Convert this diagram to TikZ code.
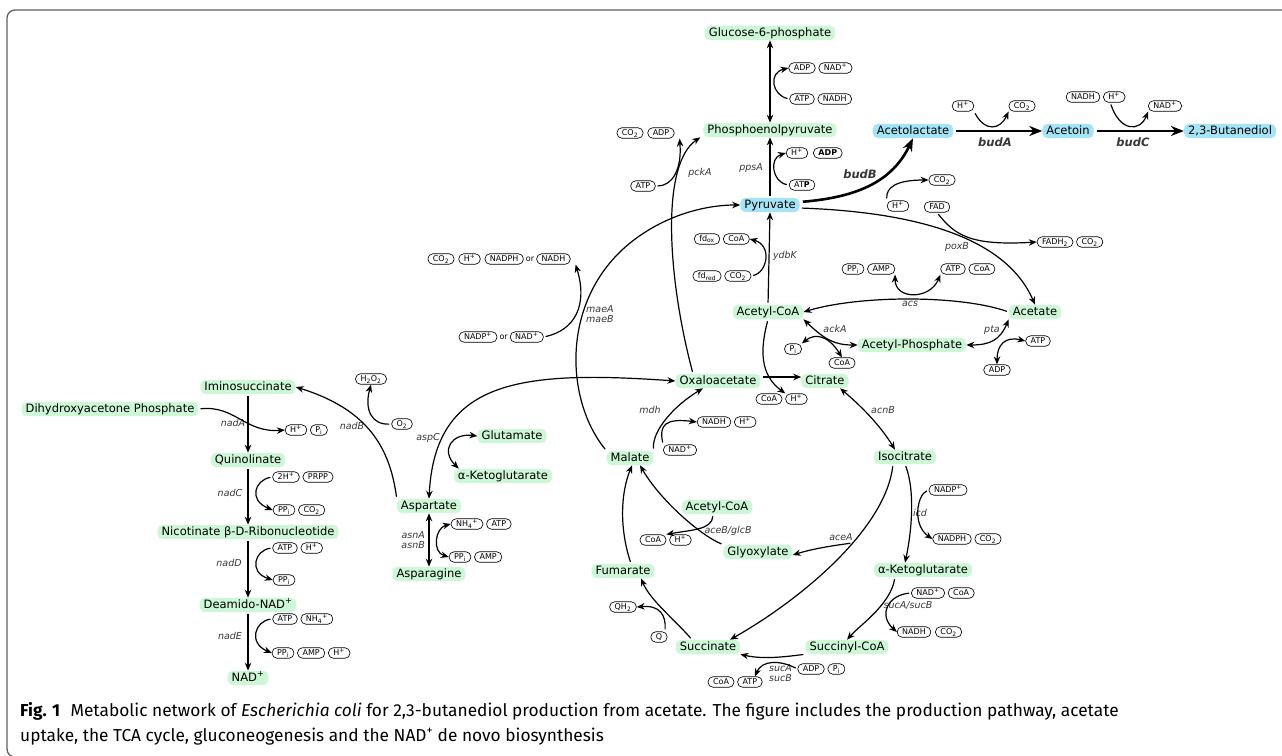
\documentclass[tikz,border=0pt]{standalone}
\usepackage{fontspec}
\setmainfont{DejaVu Sans}
\newfontfamily\capfont{Fira Sans}
\usetikzlibrary{arrows.meta,positioning}

\definecolor{metgreen}{RGB}{205,247,214}
\definecolor{metblue}{RGB}{165,228,246}
\definecolor{enzgray}{RGB}{55,55,55}
\definecolor{framegray}{RGB}{95,95,95}

\tikzset{
  met/.style={fill=metgreen, rounded corners=5pt, inner xsep=4pt, inner ysep=1.5pt, text height=8.7pt, text depth=2.5pt, font=\fontsize{11.5}{13}\selectfont},
  metb/.style={met, fill=metblue},
  cof/.style={draw, line width=0.65pt, rounded corners=5pt, inner xsep=5pt, inner ysep=1.5pt, text height=6.2pt, text depth=1.3pt, font=\fontsize{8}{9}\selectfont},
  ortext/.style={inner sep=1pt, font=\fontsize{8}{9}\selectfont},
  enz/.style={inner sep=1pt, text=enzgray, font=\fontsize{9.5}{10.5}\selectfont\itshape},
  enzb/.style={inner sep=1pt, text=enzgray, font=\fontsize{11.5}{13}\selectfont\bfseries\itshape},
  rxn/.style={line width=1.2pt, shorten <=2pt, -{Stealth[length=8pt,width=6.5pt]}},
  rxnbi/.style={line width=1.2pt, {Stealth[length=8pt,width=6.5pt]}-{Stealth[length=8pt,width=6.5pt]}},
  rxnthick/.style={line width=2.6pt, shorten <=3pt, -{Stealth[length=13pt,width=10pt]}}
}

\begin{document}
\begin{tikzpicture}[x=1pt,y=-1pt]
\useasboundingbox (0,0) rectangle (1282,755);
\draw[framegray, line width=1.3pt, rounded corners=8pt] (1290,10) -- (7,10) -- (7,757) -- (40,757);

% metabolites
\node[met] (g6p) at (770,33) {Glucose-6-phosphate};
\node[met] (pep) at (770,130) {Phosphoenolpyruvate};
\node[metb] (pyr) at (770,205) {Pyruvate};
\node[metb] (acl) at (913,131) {Acetolactate};
\node[metb] (acn) at (1068,131) {Acetoin};
\node[metb] (btd) at (1230,131) {2,3-Butanediol};
\node[met] (accoa) at (768,312) {Acetyl-CoA};
\node[met] (acet) at (1035,312) {Acetate};
\node[met] (acp) at (912,345) {Acetyl-Phosphate};
\node[met] (oaa) at (718,381) {Oxaloacetate};
\node[met] (cit) at (825,381) {Citrate};
\node[met] (mal) at (630,458) {Malate};
\node[met] (icit) at (905,457) {Isocitrate};
\node[met] (accoab) at (717,507) {Acetyl-CoA};
\node[met] (glx) at (758,552) {Glyoxylate};
\node[met] (fum) at (623,571) {Fumarate};
\node[met] (akgb) at (923,570) {α-Ketoglutarate};
\node[met] (suc) at (708,647) {Succinate};
\node[met] (succoa) at (847,647) {Succinyl-CoA};
\node[met] (asp) at (429,506) {Aspartate};
\node[met] (asn) at (429,574) {Asparagine};
\node[met] (glu) at (512,436) {Glutamate};
\node[met] (akga) at (503,476) {α-Ketoglutarate};
\node[met] (ims) at (248,387) {Iminosuccinate};
\node[met] (dhap) at (110,409) {Dihydroxyacetone Phosphate};
\node[met] (quin) at (248,460) {Quinolinate};
\node[met] (nicrn) at (248,532) {Nicotinate β-D-Ribonucleotide};
\node[met] (dnad) at (248,605) {Deamido-NAD\textsuperscript{+}};
\node[met] (nad) at (248,678) {NAD\textsuperscript{+}};

% cofactors
\node[cof] (c1adp) at (802,68) {ADP};
\node[cof, right=3pt of c1adp] (c1nad) {NAD\textsuperscript{+}};
\node[cof] (c1atp) at (802,99) {ATP};
\node[cof, right=3pt of c1atp] (c1nadh) {NADH};
\node[cof] (c2h) at (797,153) {H\textsuperscript{+}};
\node[cof, right=5pt of c2h] (c2adp) {\bfseries ADP};
\node[cof] (c2atp) at (802,185) {AT{\bfseries P}};
\node[cof] (c3co2) at (630,133) {CO\textsubscript{2}};
\node[cof, right=4pt of c3co2] (c3adp) {ADP};
\node[cof] (c3atp) at (643,186) {ATP};
\node[cof] (c4co2) at (942,180) {CO\textsubscript{2}};
\node[cof] (c4h) at (898,206) {H\textsuperscript{+}};
\node[cof] (fad) at (937,207) {FAD};
\node[cof] (fadh2) at (1055,242) {FADH\textsubscript{2}};
\node[cof, right=3pt of fadh2] (c5co2) {CO\textsubscript{2}};
\node[cof] (c6h) at (963,106) {H\textsuperscript{+}};
\node[cof] (c6co2) at (1022,106) {CO\textsubscript{2}};
\node[cof] (c7nadh) at (1083,97) {NADH};
\node[cof, right=3pt of c7nadh] (c7h) {H\textsuperscript{+}};
\node[cof] (c7nad) at (1165,106) {NAD\textsuperscript{+}};
\node[cof] (fdox) at (707,239) {fd\textsubscript{ox}};
\node[cof, right=3pt of fdox] (c8coa) {CoA};
\node[cof] (fdred) at (707,276) {fd\textsubscript{red}};
\node[cof, right=3pt of fdred] (c8co2) {CO\textsubscript{2}};
\node[cof] (c9ppi) at (853,269) {PP\textsubscript{i}};
\node[cof, right=3pt of c9ppi] (c9amp) {AMP};
\node[cof] (c9atp) at (953,269) {ATP};
\node[cof, right=3pt of c9atp] (c9coa) {CoA};
\node[cof] (c10pi) at (793,349) {P\textsubscript{i}};
\node[cof] (c10coa) at (842,363) {CoA};
\node[cof] (c11atp) at (1038,341) {ATP};
\node[cof] (c11adp) at (997,370) {ADP};
\node[cof] (c12coa) at (769,399) {CoA};
\node[cof, right=3pt of c12coa] (c12h) {H\textsuperscript{+}};
\node[cof] (c13nadh) at (714,422) {NADH};
\node[cof, right=3pt of c13nadh] (c13h) {H\textsuperscript{+}};
\node[cof] (c13nad) at (680,450) {NAD\textsuperscript{+}};
\node[cof] (c14co2) at (441,259) {CO\textsubscript{2}};
\node[cof, right=4pt of c14co2] (c14h) {H\textsuperscript{+}};
\node[cof, right=4pt of c14h] (c14nadph) {NADPH};
\node[ortext, right=1pt of c14nadph] (c14or) {or};
\node[cof, right=1pt of c14or] (c14nadh) {NADH};
\node[cof] (c15nadp) at (478,337) {NADP\textsuperscript{+}};
\node[ortext, right=1pt of c15nadp] (c15or) {or};
\node[cof, right=1pt of c15or] (c15nad) {NAD\textsuperscript{+}};
\node[cof] (h2o2) at (371,379) {H\textsubscript{2}O\textsubscript{2}};
\node[cof] (o2) at (402,424) {O\textsubscript{2}};
\node[cof] (c16h) at (296,430) {H\textsuperscript{+}};
\node[cof, right=3pt of c16h] (c16pi) {P\textsubscript{i}};
\node[cof] (c17h) at (286,477) {2H\textsuperscript{+}};
\node[cof, right=3pt of c17h] (prpp) {PRPP};
\node[cof] (c17ppi) at (284,510) {PP\textsubscript{i}};
\node[cof, right=3pt of c17ppi] (c17co2) {CO\textsubscript{2}};
\node[cof] (c18atp) at (285,548) {ATP};
\node[cof, right=3pt of c18atp] (c18h) {H\textsuperscript{+}};
\node[cof] (c18ppi) at (284,580) {PP\textsubscript{i}};
\node[cof] (c19atp) at (285,619) {ATP};
\node[cof, right=3pt of c19atp] (c19nh4) {NH\textsubscript{4}\textsuperscript{+}};
\node[cof] (c19ppi) at (283,653) {PP\textsubscript{i}};
\node[cof, right=3pt of c19ppi] (c19amp) {AMP};
\node[cof, right=3pt of c19amp] (c19h) {H\textsuperscript{+}};
\node[cof] (c20nh4) at (467,524) {NH\textsubscript{4}\textsuperscript{+}};
\node[cof, right=3pt of c20nh4] (c20atp) {ATP};
\node[cof] (c20ppi) at (460,557) {PP\textsubscript{i}};
\node[cof, right=3pt of c20ppi] (c20amp) {AMP};
\node[cof] (c21coa) at (653,540) {CoA};
\node[cof, right=3pt of c21coa] (c21h) {H\textsuperscript{+}};
\node[cof] (c22nadp) at (948,490) {NADP\textsuperscript{+}};
\node[cof] (c22nadph) at (952,539) {NADPH};
\node[cof, right=3pt of c22nadph] (c22co2) {CO\textsubscript{2}};
\node[cof] (c23nad) at (928,593) {NAD\textsuperscript{+}};
\node[cof, right=3pt of c23nad] (c23coa) {CoA};
\node[cof] (c23nadh) at (914,632) {NADH};
\node[cof, right=4pt of c23nadh] (c23co2) {CO\textsubscript{2}};
\node[cof] (c24adp) at (811,669) {ADP};
\node[cof, right=3pt of c24adp] (c24pi) {P\textsubscript{i}};
\node[cof] (c24coa) at (721,682) {CoA};
\node[cof, right=3pt of c24coa] (c24atp) {ATP};
\node[cof] (qh2) at (623,607) {QH\textsubscript{2}};
\node[cof] (q) at (659,637) {Q};

% enzymes
\node[enz] (pcka) at (700,173) {pckA};
\node[enz] (ppsa) at (751,168) {ppsA};
\node[enzb] (budb) at (860,174) {budB};
\node[enzb] (buda) at (995,142) {budA};
\node[enzb] (budc) at (1133,142) {budC};
\node[enz] (poxb) at (957,247) {poxB};
\node[enz] (ydbk) at (785,256) {ydbK};
\node[enz] (acs) at (910,304) {acs};
\node[enz] (acka) at (835,329) {ackA};
\node[enz] (pta) at (992,330) {pta};
\node[enz] (acnb) at (883,410) {acnB};
\node[enz] (mdh) at (650,410) {mdh};
\node[enz, anchor=west, align=left] (maeab) at (585,314) {maeA\\maeB};
\node[enz] (aspc) at (428,438) {aspC};
\node[enz] (nadb) at (352,426) {nadB};
\node[enz, anchor=east, align=right] (asnab) at (426,540) {asnA\\asnB};
\node[enz] (nada) at (233,423) {nadA};
\node[enz] (nadc) at (230,493) {nadC};
\node[enz] (nadd) at (229,563) {nadD};
\node[enz] (nade) at (230,636) {nadE};
\node[enz] (aceb) at (728,531) {aceB/glcB};
\node[enz] (acea) at (841,537) {aceA};
\node[enz] (icd) at (920,513) {icd};
\node[enz] (sucab) at (908,605) {sucA/sucB};
\node[enz, anchor=west, align=left] (sucabb) at (768,673) {sucA\\sucB};

% gluconeogenesis
\draw[rxnbi] (g6p) -- (pep);
\draw[rxn] (c1atp.west) .. controls (772,95) and (768,73) .. (c1adp.west);
\draw[rxn] (pyr) -- (pep);
\draw[rxn] (c2atp.west) .. controls (772,182) and (769,158) .. (c2h.west);
\draw[rxn] ([xshift=-25pt]oaa.north) .. controls (668,280) and (660,165) .. ([xshift=-3pt]pep.south west);
\draw[rxn] (c3atp.east) .. controls (672,186) and (682,170) .. ([xshift=5pt]c3adp.south east);

% production pathway
\draw[rxnthick] ([yshift=3pt]pyr.east) .. controls (860,197) and (893,180) .. (acl.south);
\draw[rxn] (c4h.north west) .. controls (886,188) and (895,180) .. (c4co2.west);
\draw[rxnthick] (acl) -- (acn);
\draw[rxn] (c6h.south east) .. controls (985,132) and (1000,130) .. (c6co2.south west);
\draw[rxnthick] (acn) -- (btd);
\draw[rxn] ([xshift=-4pt]c7h.south) .. controls (1120,132) and (1140,132) .. (c7nad.south west);

% acetate uptake
\draw[rxn] ([yshift=-3pt]pyr.east) .. controls (910,212) and (1005,235) .. (acet.north);
\draw[rxn] (fad.south) .. controls (955,235) and (970,246) .. (fadh2.west);
\draw[rxn] (acet.west) .. controls (960,295) and (860,295) .. (accoa.east);
\draw[rxnbi] (c9amp.south east) .. controls (895,300) and (930,300) .. (c9atp.south west);
\draw[rxnbi] (accoa.south east) .. controls (825,340) and (835,345) .. (acp.west);
\draw[rxnbi] (c10pi.north east) .. controls (815,333) and (828,335) .. (c10coa.north);
\draw[rxnbi] (acet.south west) .. controls (1000,340) and (990,345) .. (acp.east);
\draw[rxnbi] (c11atp.west) .. controls (1005,336) and (997,345) .. (c11adp.north);
\draw[rxn] (accoa.north) -- (pyr.south);
\draw[rxn] (c8co2.east) .. controls (768,272) and (772,245) .. (c8coa.east);
\draw[rxn] (accoa.south) .. controls (760,350) and (760,375) .. (c12h.north west);

% TCA cycle
\draw[rxn] ([yshift=4pt]oaa.east) -- ([yshift=4pt]cit.west);
\draw[rxnbi] ([xshift=15pt]cit.south) .. controls (860,405) and (880,425) .. ([xshift=-10pt]icit.north);
\draw[rxn] (icit.south) .. controls (915,490) and (912,530) .. ([xshift=-18pt]akgb.north);
\draw[rxn] (c22nadp.west) .. controls (917,495) and (912,525) .. (c22nadph.west);
\draw[rxn] ([xshift=-28pt]akgb.south) .. controls (890,605) and (860,625) .. (succoa.north);
\draw[rxn] (c23nad.west) .. controls (888,595) and (878,615) .. (c23nadh.west);
\draw[rxn] (succoa.south west) .. controls (790,656) and (765,660) .. (suc.south east);
\draw[rxn] (c24adp.west) .. controls (780,660) and (762,660) .. ([xshift=5pt]c24atp.north);
\draw[rxn] ([xshift=-16pt]suc.north) .. controls (675,620) and (650,600) .. ([xshift=18pt]fum.south);
\draw[rxn] ([xshift=6pt]q.north) .. controls (666,615) and (660,605) .. (qh2.east);
\draw[rxn] ([xshift=8pt]fum.north) .. controls (620,530) and (620,495) .. ([xshift=2pt]mal.south);
\draw[rxn] (mal.north east) .. controls (652,430) and (675,405) .. ([xshift=-15pt]oaa.south);
\draw[rxn] (c13nad.north west) .. controls (659,425) and (665,418) .. (c13nadh.west);

% glyoxylate shunt
\draw[rxn] ([xshift=-12pt]icit.south) .. controls (885,530) and (800,600) .. coordinate[pos=0.4] (aceaj) ([xshift=22pt]suc.north);
\draw[rxn] (aceaj) .. controls (830,546) and (812,549) .. ([yshift=-3pt]glx.east);
\draw[rxn] (glx.north west) .. controls (700,535) and (660,500) .. ([xshift=10pt]mal.south);
\draw[rxn] ([xshift=-4pt]accoab.south) .. controls (712,530) and (690,530) .. (c21coa.north east);

% malic enzyme, aspartate
\draw[rxn] (mal.north west) .. controls (565,400) and (560,300) .. (630,243) .. controls (665,215) and (705,205) .. (pyr.west);
\draw[rxn] (c15nad.east) .. controls (575,330) and (588,305) .. ([xshift=5pt]c14nadh.south east);
\draw[rxnbi] (oaa.west) .. controls (520,370) and (435,380) .. (asp.north);
\draw[rxnbi] (glu.west) .. controls (452,433) and (440,450) .. ([xshift=5pt]akga.north west);
\draw[rxnbi] (asp) -- (asn);
\draw[rxnbi] (c20nh4.west) .. controls (435,528) and (432,552) .. (c20ppi.west);

% NAD de novo
\draw[rxn] (asp.north west) .. controls (390,450) and (370,410) .. (ims.east);
\draw[rxn] (o2.west) .. controls (372,425) and (364,410) .. (h2o2.south);
\draw[rxn] (ims) -- (quin);
\draw[rxn] (dhap.east) .. controls (235,405) and (245,433) .. (c16h.west);
\draw[rxn] (quin) -- (nicrn);
\draw[rxn] (c17h.west) .. controls (255,480) and (248,500) .. (c17ppi.west);
\draw[rxn] (nicrn) -- (dnad);
\draw[rxn] (c18atp.west) .. controls (255,550) and (248,572) .. (c18ppi.west);
\draw[rxn] (dnad) -- (nad);
\draw[rxn] (c19atp.west) .. controls (255,621) and (248,643) .. (c19ppi.west);

% caption
\node[anchor=base west, inner sep=0pt, font=\capfont\fontsize{17.3}{20}\selectfont] (cap1) at (20,716) {\textbf{Fig. 1}\hspace{0.6em}Metabolic network of \textit{Escherichia coli} for 2,3-butanediol production from acetate. The figure includes the production pathway, acetate};
\node[anchor=base west, inner sep=0pt, font=\capfont\fontsize{17.3}{20}\selectfont] (cap2) at (20,741) {uptake, the TCA cycle, gluconeogenesis and the NAD\textsuperscript{+} de novo biosynthesis};
\end{tikzpicture}
\end{document}
